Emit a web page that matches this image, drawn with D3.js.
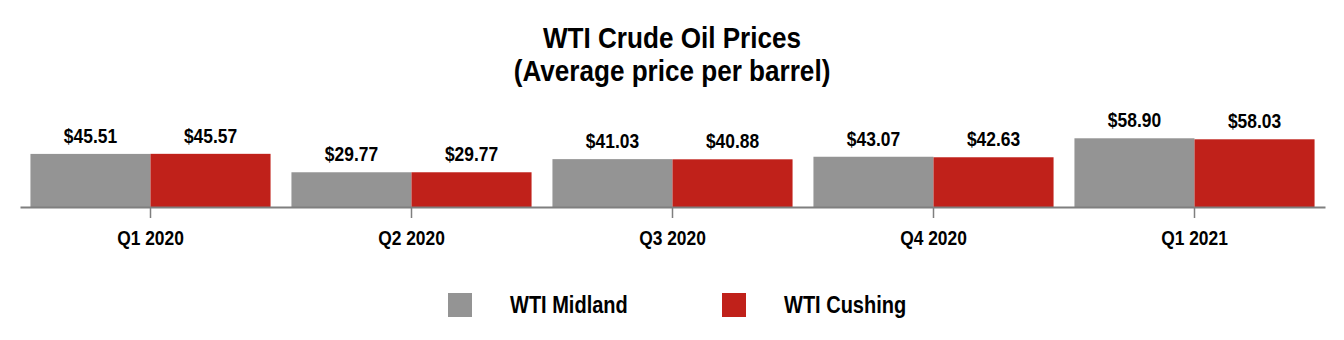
<!DOCTYPE html>
<html>
<head>
<meta charset="utf-8">
<script src="https://cdn.jsdelivr.net/npm/d3@7/dist/d3.min.js"></script>
<style>
  html, body { margin: 0; padding: 0; background: #ffffff; }
  svg { display: block; }
  text { font-family: "Liberation Sans", Arial, sans-serif; font-weight: bold; fill: #000; }
</style>
</head>
<body>
<svg id="chart" width="1344" height="340"></svg>
<script>
const categories = ["Q1 2020", "Q2 2020", "Q3 2020", "Q4 2020", "Q1 2021"];
const seriesNames = ["WTI Midland", "WTI Cushing"];
const midland = [45.51, 29.77, 41.03, 43.07, 58.90];
const cushing = [45.57, 29.77, 40.88, 42.63, 58.03];
const colors = ["#949494", "#C0211A"];
const titleLines = ["WTI Crude Oil Prices", "(Average price per barrel)"];

const svg = d3.select("#chart");
const W = 1344, H = 340;
const baseY = 207;
const SX = 0.87; // horizontal condensing to mimic a narrow typeface

const x0 = d3.scaleBand().domain(categories).range([20, 1325]).paddingInner(0.08).paddingOuter(0.04);
const x1 = d3.scaleBand().domain(seriesNames).range([0, x0.bandwidth()]);
const y = d3.scaleLinear().domain([0, 60]).range([baseY, 137]);

const data = categories.map((c, i) => ({cat: c, vals: [midland[i], cushing[i]]}));

// title
svg.append("g").selectAll("text").data(titleLines).join("text")
  .attr("transform", (d, i) => `translate(${W / 2},${48 + i * 33}) scale(${SX},1)`)
  .attr("text-anchor", "middle").style("font-size", "30px").text(d => d);

// bars
const groups = svg.append("g").selectAll("g").data(data).join("g")
  .attr("transform", d => `translate(${x0(d.cat)},0)`);
groups.selectAll("rect").data(d => d.vals.map((v, j) => ({v, s: seriesNames[j], j}))).join("rect")
  .attr("x", d => x1(d.s)).attr("width", x1.bandwidth())
  .attr("y", d => y(d.v)).attr("height", d => y(0) - y(d.v))
  .attr("fill", d => colors[d.j]);
groups.selectAll("text").data(d => d.vals.map((v, j) => ({v, s: seriesNames[j], j}))).join("text")
  .attr("transform", d => `translate(${x1(d.s) + x1.bandwidth() / 2},${y(d.v) - 11}) scale(${SX},1)`)
  .attr("text-anchor", "middle").style("font-size", "20px")
  .text(d => "$" + d3.format(".2f")(d.v));

// axis
const axisG = svg.append("g").attr("transform", `translate(0,${baseY})`)
  .call(d3.axisBottom(x0).tickSize(11).tickSizeOuter(0).tickPadding(13));
axisG.select(".domain").attr("stroke", "#7f7f7f").attr("stroke-width", 2);
axisG.selectAll(".tick line").attr("stroke", "#7f7f7f").attr("stroke-width", 1.5);
axisG.selectAll(".tick text").style("font-size", "20px").attr("fill", "#000")
  .attr("transform", `scale(${SX},1)`)
  .style("font-family", "\"Liberation Sans\", Arial, sans-serif")
  .style("font-weight", "bold");

// legend
const legendX = [448, 722];
const lg = svg.append("g").selectAll("g").data(seriesNames).join("g")
  .attr("transform", (d, i) => `translate(${legendX[i]},293)`);
lg.append("rect").attr("width", 24).attr("height", 24).attr("fill", (d, i) => colors[i]);
lg.append("text").attr("transform", `translate(62,20) scale(${SX},1)`).style("font-size", "23px").text(d => d);
</script>
</body>
</html>
